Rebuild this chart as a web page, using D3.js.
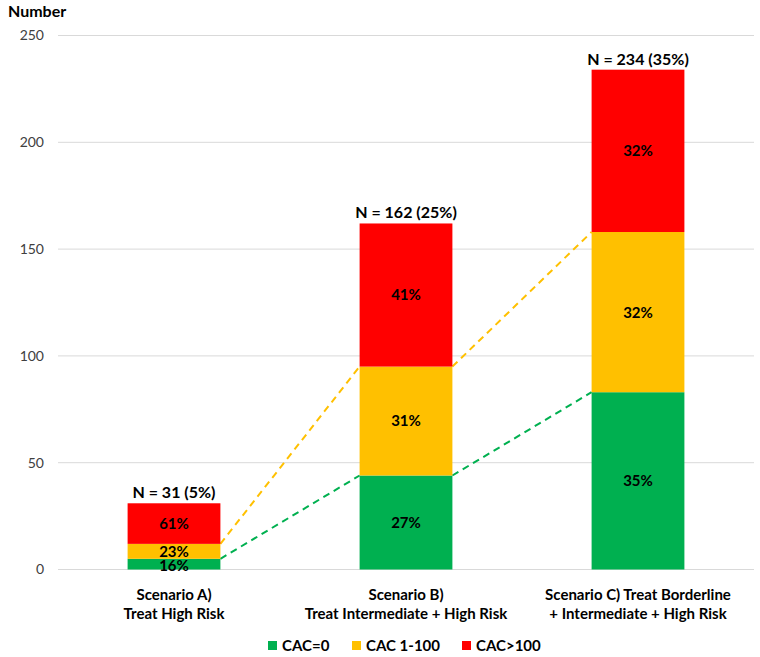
<!DOCTYPE html>
<html><head><meta charset="utf-8">
<script src="https://cdn.jsdelivr.net/npm/d3@7"></script>
<style>body{margin:0;background:#fff}text{font-family:Lato,"Open Sans",sans-serif}</style>
</head><body>
<svg id="c" width="760" height="657"></svg>
<script>
const categories = ["A","B","C"];
const catLine1 = ["Scenario A)", "Scenario B)", "Scenario C) Treat Borderline"];
const catLine2 = ["Treat High Risk", "Treat Intermediate + High Risk", "+ Intermediate + High Risk"];
const cac0 = [5, 44, 83];
const cac1_100 = [7, 51, 75];
const cac100 = [19, 67, 76];
const pct0 = ["16%", "27%", "35%"];
const pct1_100 = ["23%", "31%", "32%"];
const pct100 = ["61%", "41%", "32%"];
const totals = ["N = 31 (5%)", "N = 162 (25%)", "N = 234 (35%)"];
const seriesNames = ["CAC=0", "CAC 1-100", "CAC>100"];
const colors = ["#00B050", "#FFC000", "#FF0000"];
const yTicks = [0, 50, 100, 150, 200, 250];

const svg = d3.select("#c");
const x = d3.scaleBand().domain(categories).range([58, 754]).paddingInner(0.6).paddingOuter(0.3);
const y = d3.scaleLinear().domain([0, 250]).range([569.5, 35.5]);

// grid
svg.append("g").selectAll("line").data(yTicks).join("line")
  .attr("x1", 58).attr("x2", 754).attr("y1", d => y(d)).attr("y2", d => y(d))
  .attr("stroke", "#d9d9d9").attr("stroke-width", 1);
const yAxis = d3.axisLeft(y).tickValues(yTicks).tickSize(0).tickPadding(0);
const ga = svg.append("g").attr("transform", "translate(44,0)").call(yAxis);
ga.select(".domain").remove();
ga.selectAll("text").attr("font-size", 14).attr("fill", "#404040").style("font-family", "Lato, sans-serif");

svg.append("text").attr("x", 8).attr("y", 17).attr("font-size", 16).attr("font-weight", "bold").attr("fill", "#000").text("Number");

const pcts = [pct0, pct1_100, pct100];
const rows = categories.map((c, i) => ({cat: c, s0: cac0[i], s1: cac1_100[i], s2: cac100[i]}));
const stack = d3.stack().keys(["s0", "s1", "s2"])(rows);

// dashed connectors (green & yellow tops)
[0, 1].forEach(k => {
  for (let i = 0; i < categories.length - 1; i++) {
    svg.append("line")
      .attr("x1", x(categories[i]) + x.bandwidth()).attr("y1", y(stack[k][i][1]))
      .attr("x2", x(categories[i + 1])).attr("y2", y(stack[k][i + 1][1]))
      .attr("stroke", colors[k]).attr("stroke-width", 2).attr("stroke-dasharray", "7,5");
  }
});

stack.forEach((layer, k) => {
  svg.append("g").selectAll("rect").data(layer).join("rect")
    .attr("x", d => x(d.data.cat)).attr("width", x.bandwidth())
    .attr("y", d => y(d[1])).attr("height", d => y(d[0]) - y(d[1]))
    .attr("fill", colors[k]);
});
stack.forEach((layer, k) => {
  svg.append("g").selectAll("text").data(layer).join("text")
    .attr("x", d => x(d.data.cat) + x.bandwidth() / 2)
    .attr("y", d => (y(d[0]) + y(d[1])) / 2 + (k === 0 && (y(d[0]) - y(d[1])) < 14 ? 1.5 : 0))
    .attr("dy", "0.36em").attr("text-anchor", "middle")
    .attr("font-size", 15).attr("font-weight", "bold").attr("fill", "#000")
    .text((d, i) => pcts[k][i]);
});
// totals
svg.append("g").selectAll("text").data(stack[2]).join("text")
  .attr("x", d => x(d.data.cat) + x.bandwidth() / 2).attr("y", d => y(d[1]) - 5)
  .attr("text-anchor", "middle").attr("font-size", 16).attr("font-weight", "bold").attr("fill", "#000")
  .text((d, i) => totals[i]);

// category labels
const cg = svg.append("g");
categories.forEach((c, i) => {
  const cx = x(c) + x.bandwidth() / 2;
  cg.append("text").attr("x", cx).attr("y", 600).attr("text-anchor", "middle")
    .attr("font-size", 15).attr("font-weight", "bold").attr("fill", "#000").text(catLine1[i]);
  cg.append("text").attr("x", cx).attr("y", 619).attr("text-anchor", "middle")
    .attr("font-size", 15).attr("font-weight", "bold").attr("fill", "#000").text(catLine2[i]);
});

// legend
const legX = [268, 352, 462];
const lg = svg.append("g");
seriesNames.forEach((n, i) => {
  lg.append("rect").attr("x", legX[i]).attr("y", 641).attr("width", 9).attr("height", 9).attr("fill", colors[i]);
  lg.append("text").attr("x", legX[i] + 14).attr("y", 651).attr("font-size", 15).attr("font-weight", "bold").attr("fill", "#000").text(n);
});
</script>
</body></html>
